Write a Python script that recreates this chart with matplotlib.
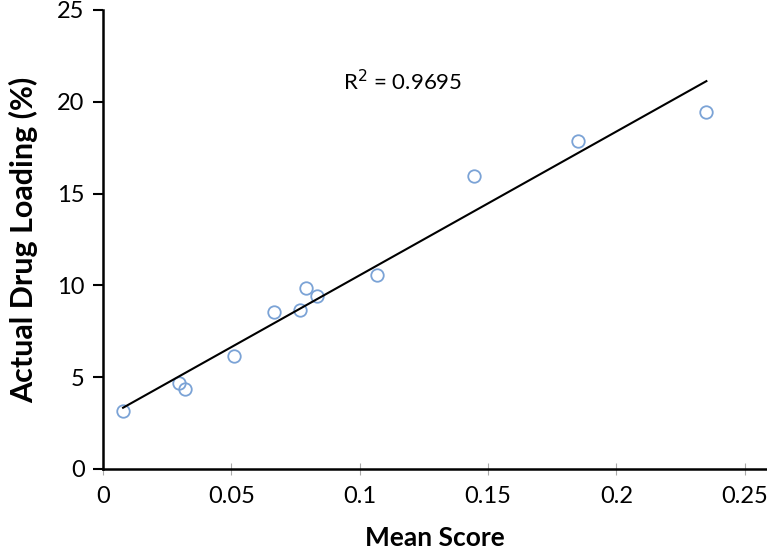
import numpy as np
import matplotlib.pyplot as plt

plt.rcParams['font.family'] = ['Lato', 'DejaVu Sans']

mean_score = [0.0079, 0.0297, 0.0319, 0.0511, 0.0667, 0.0767, 0.0793, 0.0834,
              0.1068, 0.1447, 0.1850, 0.2350]
drug_loading = [3.14, 4.71, 4.35, 6.14, 8.55, 8.64, 9.85, 9.42,
                10.58, 15.94, 17.84, 19.47]
x_ticks = [0, 0.05, 0.1, 0.15, 0.2, 0.25]
x_tick_labels = ['0', '0.05', '0.1', '0.15', '0.2', '0.25']
y_ticks = [0, 5, 10, 15, 20, 25]

fig = plt.figure(figsize=(7.67, 5.55), dpi=100)
ax = fig.add_axes([0.134, 0.155, 0.866, 0.827])

ax.plot(mean_score, drug_loading, 'o', mfc='none', mec='#7ba3d6', mew=1.3, ms=9)

slope, intercept = np.polyfit(mean_score, drug_loading, 1)
xs = np.array([min(mean_score), max(mean_score)])
ax.plot(xs, slope * xs + intercept, color='black', lw=1.5)

ax.text(0.0935, 21.1, 'R$^2$ = 0.9695', fontsize=16, va='center')

ax.set_xlim(0, 0.2586)
ax.set_ylim(0, 25)
ax.set_xticks(x_ticks)
ax.set_xticklabels(x_tick_labels)
ax.set_yticks(y_ticks)
ax.spines['top'].set_visible(False)
ax.spines['right'].set_visible(False)
ax.spines['left'].set_linewidth(1.8)
ax.spines['bottom'].set_linewidth(1.8)
ax.tick_params(axis='y', direction='out', length=7, width=1.5, labelsize=17, pad=6)
ax.tick_params(axis='x', direction='inout', length=8, width=0.8, color='#aaaaaa',
               labelsize=17, pad=8)

ax.set_xlabel('Mean Score', fontsize=19, fontweight='bold', labelpad=14)
ax.set_ylabel('Actual Drug Loading (%)', fontsize=22, fontweight='bold', labelpad=14)

fig.savefig('out.png', dpi=100)
